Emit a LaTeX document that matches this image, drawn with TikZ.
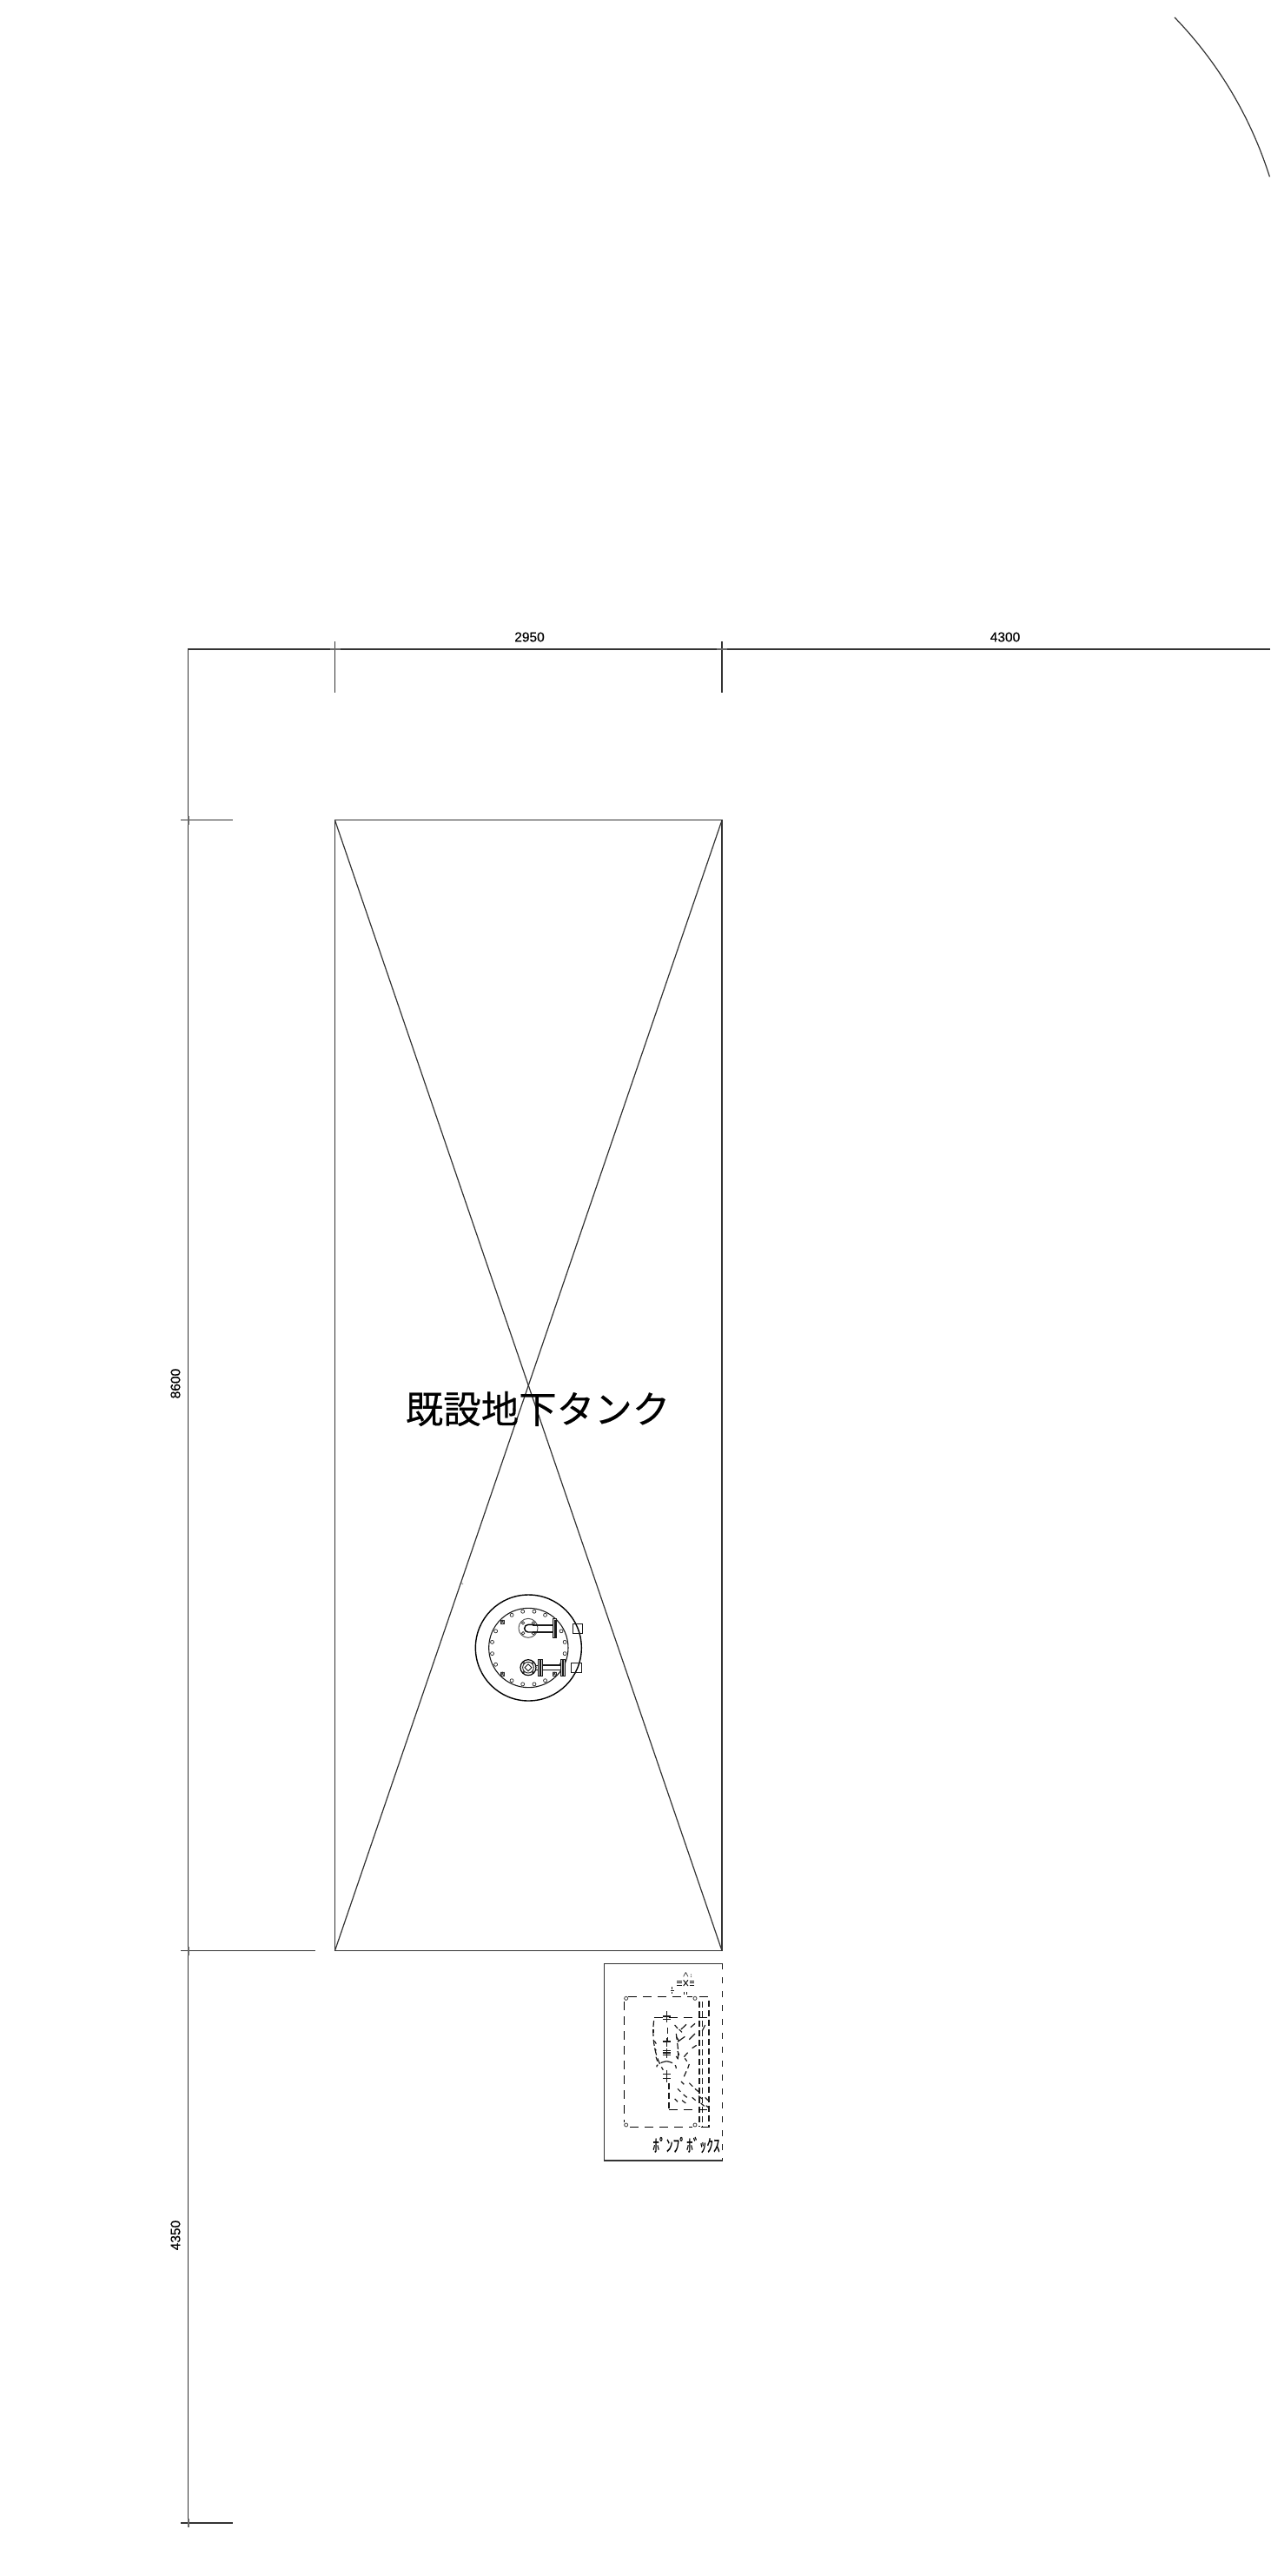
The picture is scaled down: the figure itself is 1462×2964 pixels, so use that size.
\documentclass[tikz,border=0pt]{standalone}
\usepackage{fontspec}
\setmainfont{Liberation Sans}
\newfontfamily\dimfont[FakeBold=0.35]{Liberation Sans}
\newfontfamily\cjk[FakeBold=0.3]{Noto Sans CJK JP}
\tikzset{
 thinline/.style={draw=black!80,line width=1.2pt},
 dimtext/.style={inner sep=0pt,font=\dimfont\fontsize{15.5}{15.5}\selectfont,text=black},
 tickmark/.style={draw=black!60,line width=1.8pt},
 part/.style={draw=black!90,line width=0.9pt},
 heavy/.style={draw=black,line width=1.4pt},
 pdash/.style={draw=black,line width=1.4pt,dash pattern=on 10pt off 7pt},
 sdash/.style={draw=black!90,line width=1.2pt,dash pattern=on 7pt off 4pt},
 hatch/.style={draw=black!90,line width=1.2pt},
 bolt/.style={draw=black!85,line width=0.7pt,fill=white},
}
\begin{document}
\begin{tikzpicture}[x=1pt,y=-1pt]
\useasboundingbox (0,0) rectangle (1462,2964);
\fill[white] (0,0) rectangle (1462,2964);
% far arc
\draw[thinline] (1352,20) arc[start angle=-44.04,end angle=-17.6,radius=467];
% dimension lines
\coordinate (dimTL) at (216.6,747);
\coordinate (dimTR) at (1462,747);
\coordinate (dimBL) at (216.6,2903);
\draw[thinline] (dimTR) -- (dimTL) -- (dimBL);
\draw[thinline] (385.5,738) -- (385.5,797);
\draw[thinline] (831,738) -- (831,797);
\draw[thinline] (208,943.7) -- (268,943.7);
\draw[thinline] (208,2244.5) -- (363,2244.5);
\draw[thinline] (208,2903) -- (268,2903);
\foreach \x in {385.5,831}{\draw[tickmark] (\x-6,747) -- (\x+6,747);}
\foreach \y in {943.7,2244.5,2903}{\draw[tickmark] (216.6,\y-5) -- (216.6,\y+5);}
\node[dimtext] (d2950) at (609.5,733) {2950};
\node[dimtext] (d4300) at (1157,733) {4300};
\node[dimtext,rotate=90] (d8600) at (202,1592) {8600};
\node[dimtext,rotate=90] (d4350) at (202,2572) {4350};
% tank
\coordinate (tTL) at (385.5,943.7);
\coordinate (tTR) at (831,943.7);
\coordinate (tBR) at (831,2244.5);
\coordinate (tBL) at (385.5,2244.5);
\draw[thinline] (tTL) -- (tTR) -- (tBR) -- (tBL) -- cycle;
\draw[thinline] (tTL) -- (tBR);
\draw[thinline] (tTR) -- (tBL);
\node[inner sep=0pt,font=\cjk\fontsize{43.5}{43.5}\selectfont] (tanklabel) at (619,1621) {既設地下タンク};
\draw[draw=black!40,line width=.8pt] (531,1821) -- (533,1823);
% manhole (crop coordinates, 3 units per px)
\begin{scope}[shift={(530,1810)},x=0.3333pt,y=-0.3333pt]
 \draw[heavy] (235,258) circle[radius=183];
 \draw[part,line width=1.1pt] (235,258) circle[radius=137];
 \foreach \a in {9,27,...,351}{\draw[bolt] (235,258) ++(\a:127) circle[radius=6];}
 \foreach \a in {45,135,225,315}{
   \draw[bolt] (235,258) ++(\a:127) ++(-6,-6) rectangle ++(12,12);
   \draw[bolt] (235,258) ++(\a:127) ++(-6,-6) -- ++(12,12) ++(0,-12) -- ++(-12,12);}
 % upper fitting
 \draw[part,draw=black!70] (234,190) circle[radius=33];
 \foreach \a in {45,135,225,315}{\draw[bolt] (234,190) ++(\a:25) circle[radius=5];}
 \draw[heavy] (250,178) -- (234,178) arc[start angle=-90,end angle=-270,radius=13] -- (250,204);
 \draw[part,line width=1.1pt] (250,180) -- (320,180) (250,204) -- (320,204);
 \draw[part,fill=black!15] (320,158) rectangle (332,224);
 \draw[part,fill=black!30,line width=.6pt] (325,162) rectangle (328,220);
 \draw[part] (387,174) rectangle (422,208);
 % lower fitting
 \draw[heavy,line width=1.2pt] (234,326) circle[radius=27];
 \draw[part] (234,326) circle[radius=19];
 \draw[part,fill=white] (234,314) -- (246,326) -- (234,338) -- (222,326) -- cycle;
 \foreach \a in {45,135,225,315}{\draw[bolt] (234,326) ++(\a:22) circle[radius=3];}
 \draw[part] (258,318) -- (268,318) (258,334) -- (268,334);
 \draw[part,fill=black!15] (268,298) rectangle (284,356);
 \draw[part,fill=black!30,line width=.6pt] (275,302) rectangle (278,352);
 \draw[part,line width=1.1pt] (284,318) -- (347,318) (284,334) -- (347,334);
 \draw[part,fill=black!15] (347,298) rectangle (362,356);
 \draw[part,fill=black!30,line width=.6pt] (353,302) rectangle (356,352);
 \draw[part] (382,310) rectangle (417,344);
\end{scope}
% pump box (crop coordinates, 3 units per px)
\begin{scope}[shift={(680,2240)},x=0.3333pt,y=-0.3333pt]
 \draw[thinline] (455,58) -- (46,58) -- (46,738) -- (455,738);
 \draw[draw=black!90,line width=1.1pt,dash pattern=on 7pt off 9pt] (455,58) -- (455,738);
 \draw[pdash] (130,172) -- (350,172) (375,172) -- (412,172);
 \draw[pdash] (115,190) -- (115,605);
 \draw[pdash] (135,622) -- (350,622) (380,622) -- (412,622);
 \draw[sdash] (408,185) -- (408,622);
 \foreach \p in {(122,178),(360,178),(122,615),(360,615)}{\draw[part,draw=black!70] \p circle[radius=6];}
 \draw[sdash] (375,190) -- (375,620);
 \draw[sdash] (386,190) -- (386,620);
 % inner dashed outline
 \draw[pdash] (218,245) -- (412,245);
 \draw[pdash] (270,562) -- (412,562);
 \draw[sdash] (270,470) -- (270,562);
 \draw[sdash] (265,280) -- (265,325);
 % hatching
 \foreach \a/\b/\c/\d in {360/265/345/278, 330/268/312/285, 395/270/385/290, 360/300/340/320, 325/310/300/328, 365/340/350/350, 335/365/322/380, 290/270/300/282, 305/285/315/295, 295/310/305/325, 340/405/335/420, 330/430/322/448, 312/465/322/475, 340/470/352/482, 360/490/372/500, 300/490/310/500, 320/510/332/520, 350/520/362/530, 380/540/392/550, 290/525/300/535, 315/530/328/540, 395/520/405/530, 372/515/385/525, 398/548/410/558, 300/360/305/375, 295/378/302/388, 325/385/332/395}{
   \draw[hatch] (\a,\b) -- (\c,\d);}
 % centre fittings
 \draw[part,line width=1.1pt] (262,222) -- (262,262) (250,240) -- (275,240) (250,250) -- (275,250);
 \draw[part,line width=1.1pt] (262,315) -- (262,345) (248,327) -- (276,327);
 \draw[part,line width=1.1pt] (248,358) -- (276,358) (248,366) -- (276,366) (248,374) -- (276,374) (262,350) -- (262,385);
 \draw[part,line width=1.1pt] (262,425) -- (262,468) (250,440) -- (275,440) (250,455) -- (275,455);
 \draw[sdash] (218,255) .. controls (212,300) and (215,370) .. (250,425);
 \draw[sdash] (262,395) .. controls (235,400) and (225,410) .. (228,415);
 \draw[sdash] (262,395) .. controls (290,400) and (295,410) .. (295,420);
 \draw[sdash] (295,300) .. controls (300,340) and (305,370) .. (300,390);
 \draw[part,line width=2pt] (215,285) -- (215,297);
 \draw[part,line width=1.1pt] (220,325) -- (226,335) (220,350) -- (226,358) (225,380) -- (230,395);
 % top symbol
 \draw[part,draw=black!70,line width=.8pt] (328,88) -- (320,103) (328,88) -- (336,103);
 \draw[part,draw=black!70,line width=.8pt] (345,95) -- (348,97) (345,102) -- (348,104);
 \draw[part,line width=1pt] (298,118) -- (315,118) (298,125) -- (315,125) (298,132) -- (315,132);
 \draw[part,line width=1pt] (341,118) -- (358,118) (341,125) -- (358,125) (341,132) -- (358,132);
 \draw[part,line width=1pt] (320,115) -- (336,135) (336,115) -- (320,135);
 \draw[part,line width=1pt] (282,138) -- (282,146) (277,152) -- (288,152) (282,156) -- (282,162);
 \draw[part,line width=1pt] (322,155) -- (322,165) (332,155) -- (332,165);
 \node[inner sep=0pt,yscale=1.3,font=\cjk\fontsize{15.5}{15.5}\selectfont] (pumplabel) at (330,684) {ﾎﾟﾝﾌﾟﾎﾞｯｸｽ};
\end{scope}
\end{tikzpicture}
\end{document}
